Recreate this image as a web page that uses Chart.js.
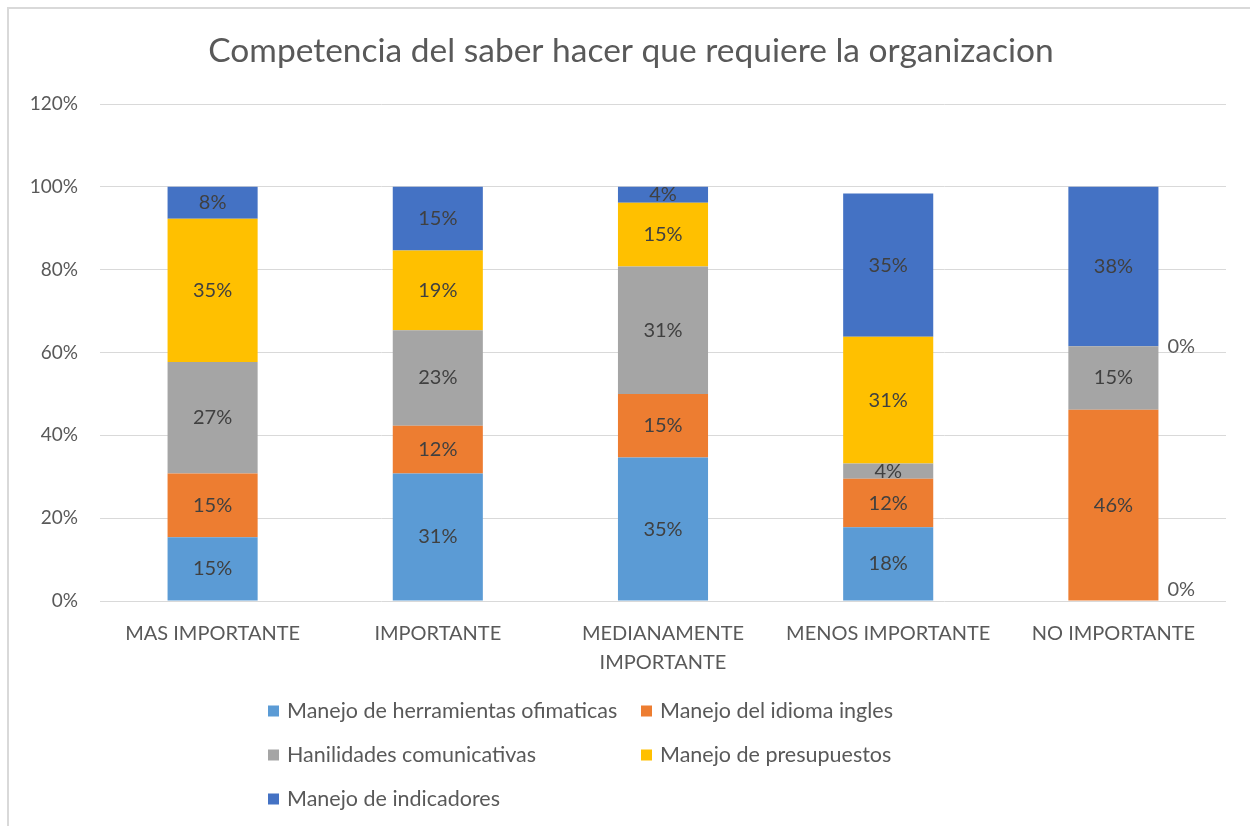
<!DOCTYPE html>
<html>
<head>
<meta charset="utf-8">
<script src="https://cdn.jsdelivr.net/npm/chart.js@4.4.0/dist/chart.umd.min.js"></script>
<style>
    html, body { margin: 0; padding: 0; background: #fff; }
    #wrap { position: relative; width: 1250px; height: 826px; }
</style>
</head>
<body>
<div id="wrap"><canvas id="chart1" width="1250" height="826"></canvas></div>
<script>
const categories = ['MAS IMPORTANTE', 'IMPORTANTE', ['MEDIANAMENTE', 'IMPORTANTE'], 'MENOS IMPORTANTE', 'NO IMPORTANTE'];
const seriesNames = ['Manejo de herramientas ofimaticas', 'Manejo del idioma ingles', 'Hanilidades comunicativas', 'Manejo de presupuestos', 'Manejo de indicadores'];
const ofimaticas = [15.38, 30.77, 34.62, 17.8, 0];
const ingles = [15.38, 11.54, 15.38, 11.7, 46.15];
const comunicativas = [26.92, 23.08, 30.77, 3.7, 15.38];
const presupuestos = [34.62, 19.23, 15.38, 30.6, 0];
const indicadores = [7.69, 15.38, 3.85, 34.6, 38.46];
const colors = ['#5B9BD5', '#ED7D31', '#A5A5A5', '#FFC000', '#4472C4'];
const yMax = 120;
const yStep = 20;
const titleText = 'Competencia del saber hacer que requiere la organizacion';

const FONT = 'Lato, "Open Sans", sans-serif';
const seriesData = [ofimaticas, ingles, comunicativas, presupuestos, indicadores];

// white background + light frame on top and left
const frame = {
    id: 'frame',
    beforeDraw(chart) {
        const { ctx, width, height } = chart;
        ctx.save();
        ctx.fillStyle = '#fff';
        ctx.fillRect(0, 0, width, height);
        ctx.strokeStyle = '#d9d9d9';
        ctx.lineWidth = 2;
        ctx.beginPath();
        ctx.moveTo(8, height);
        ctx.lineTo(8, 8);
        ctx.lineTo(width, 8);
        ctx.stroke();
        ctx.restore();
    }
};

const titleDraw = {
    id: 'titleDraw',
    afterDraw(chart) {
        const { ctx } = chart;
        ctx.save();
        ctx.font = '33.5px ' + FONT;
        ctx.fillStyle = '#595959';
        ctx.textAlign = 'center';
        ctx.textBaseline = 'middle';
        ctx.fillText(titleText, 631, 51);
        ctx.restore();
    }
};

// percentage labels in the middle of each segment, zero values beside the bar
const segLabels = {
    id: 'segLabels',
    afterDatasetsDraw(chart) {
        const { ctx, chartArea } = chart;
        ctx.save();
        ctx.font = '20px ' + FONT;
        ctx.textBaseline = 'middle';
        chart.data.datasets.forEach((ds, i) => {
            const meta = chart.getDatasetMeta(i);
            meta.data.forEach((bar, j) => {
                const v = ds.data[j];
                const txt = Math.round(v) + '%';
                if (v > 0) {
                    ctx.fillStyle = '#404040';
                    ctx.textAlign = 'center';
                    ctx.fillText(txt, bar.x, (bar.y + bar.base) / 2);
                } else {
                    ctx.fillStyle = '#595959';
                    ctx.textAlign = 'left';
                    const y = Math.min(bar.y, chartArea.bottom - 11);
                    ctx.fillText(txt, bar.x + bar.width / 2 + 9, y);
                }
            });
        });
        ctx.restore();
    }
};

// legend in two columns under the axis
const legendDraw = {
    id: 'legendDraw',
    afterDraw(chart) {
        const { ctx } = chart;
        const left = 268, colStep = 373, top = 711, rowStep = 44, box = 11;
        ctx.save();
        ctx.font = '21.5px ' + FONT;
        ctx.textBaseline = 'middle';
        ctx.textAlign = 'left';
        seriesNames.forEach((name, i) => {
            const x = left + (i % 2) * colStep;
            const y = top + Math.floor(i / 2) * rowStep;
            ctx.fillStyle = colors[i];
            ctx.fillRect(x, y - box / 2, box, box);
            ctx.fillStyle = '#595959';
            ctx.fillText(name, x + box + 8, y);
        });
        ctx.restore();
    }
};

const ctx = document.getElementById('chart1').getContext('2d');
new Chart(ctx, {
    type: 'bar',
    data: {
        labels: categories,
        datasets: seriesNames.map((name, i) => ({
            label: name,
            data: seriesData[i],
            backgroundColor: colors[i],
            borderWidth: 0,
            barPercentage: 0.4,
            categoryPercentage: 1,
        }))
    },
    options: {
        responsive: false,
        animation: false,
        layout: { padding: { top: 104, right: 24, bottom: 0, left: 0 } },
        plugins: {
            legend: { display: false },
            title: { display: false },
            tooltip: { enabled: false }
        },
        scales: {
            x: {
                stacked: true,
                grid: { display: false, drawTicks: false },
                border: { display: false },
                ticks: {
                    color: '#595959',
                    font: { family: FONT, size: 20, lineHeight: 1.45 },
                    padding: 18,
                    maxRotation: 0,
                    autoSkip: false
                },
                afterFit(scale) { scale.height = 225; }
            },
            y: {
                stacked: true,
                min: 0,
                max: yMax,
                grid: { color: '#d9d9d9', lineWidth: 1, drawTicks: false },
                border: { display: false },
                ticks: {
                    stepSize: yStep,
                    color: '#595959',
                    font: { family: FONT, size: 19 },
                    padding: 22,
                    callback: (v) => v + '%'
                },
                afterFit(scale) { scale.width = 100; }
            }
        }
    },
    plugins: [frame, titleDraw, segLabels, legendDraw]
});
</script>
</body>
</html>
